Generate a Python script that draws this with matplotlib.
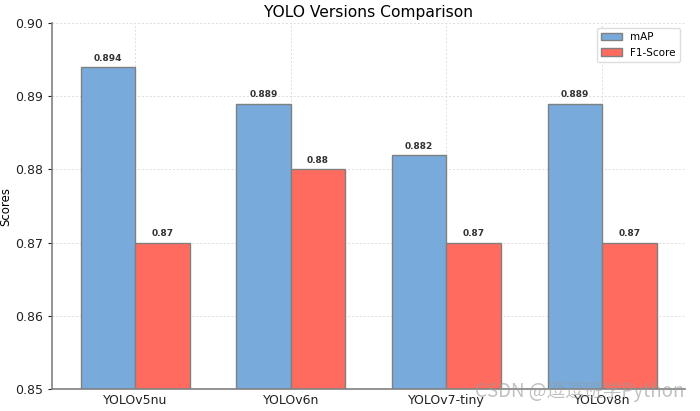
import matplotlib
matplotlib.use("Agg")
import matplotlib.pyplot as plt
import numpy as np

models = ["YOLOv5nu", "YOLOv6n", "YOLOv7-tiny", "YOLOv8n"]
map_vals = [0.894, 0.889, 0.882, 0.889]
f1_vals = [0.87, 0.88, 0.87, 0.87]

fig = plt.figure(figsize=(7, 4.11), dpi=100)
ax = fig.add_axes([0.074, 0.0535, 0.905, 0.8905])

x = np.arange(len(models))
w = 0.35
b1 = ax.bar(x - w/2, map_vals, w, label="mAP", color="#78abdb", edgecolor="#808080", linewidth=1)
b2 = ax.bar(x + w/2, f1_vals, w, label="F1-Score", color="#ff6b5e", edgecolor="#808080", linewidth=1)

for bars in (b1, b2):
    for r in bars:
        h = r.get_height()
        ax.annotate(f"{h:g}", (r.get_x() + r.get_width()/2, h), xytext=(0, 3),
                    textcoords="offset points", ha="center", va="bottom",
                    fontsize=6.5, fontweight="bold", color="#333333")

ax.set_ylim(0.85, 0.90)
ax.set_yticks([0.85, 0.86, 0.87, 0.88, 0.89, 0.90])
ax.set_yticklabels(["0.85", "0.86", "0.87", "0.88", "0.89", "0.90"])
ax.set_xticks(x)
ax.set_xticklabels(models)
ax.tick_params(labelsize=9, colors="#222222", length=3)
ax.tick_params(axis="x", length=0)
ax.set_ylabel("Scores", fontsize=8.5, labelpad=2)
ax.set_title("YOLO Versions Comparison", fontsize=11.2, pad=4)
ax.grid(True, linestyle=(0, (2, 2)), color="#dddddd", linewidth=0.7)
ax.set_axisbelow(True)
for s in ("top", "right"):
    ax.spines[s].set_visible(False)
for s in ("left", "bottom"):
    ax.spines[s].set_color("#808080")
    ax.spines[s].set_linewidth(1.2)
ax.legend(loc="upper right", fontsize=7.5, frameon=True, framealpha=1, edgecolor="#dddddd")

fig.text(0.978, 0.022, "CSDN @逗逗班学Python", ha="right", va="bottom", fontsize=13.5,
         color="#999999", alpha=0.6, family=["Noto Sans CJK SC", "DejaVu Sans"])
fig.savefig("out.png", dpi=100)
